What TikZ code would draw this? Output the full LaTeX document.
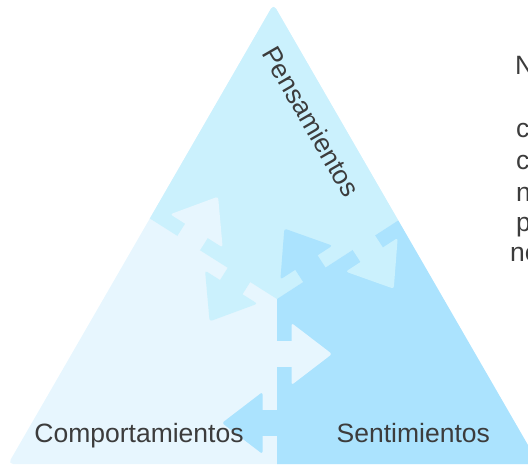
\documentclass[tikz,border=0pt]{standalone}
\usepackage{fontspec}
\setmainfont{Liberation Sans}
\definecolor{topc}{HTML}{CBF1FD}
\definecolor{leftc}{HTML}{E7F6FE}
\definecolor{rightc}{HTML}{ABE3FE}
\definecolor{txt}{HTML}{3C3C3C}
\newcommand\twarrow[3]{%
  \begin{scope}[shift={#1}, rotate=#2]
    \fill[#3] (-1,-13.3) rectangle (16,13.3);
    \fill[#3, rounded corners=2.5pt] (14.5,-31) -- (55,0) -- (14.5,31) -- cycle;
  \end{scope}}
\begin{document}
\begin{tikzpicture}[x=1pt,y=-1pt,
  lbl/.style={text=txt, font=\fontsize{26.5}{31.8}\selectfont, inner sep=0pt}]
\useasboundingbox (0,0) rectangle (528,466);
\coordinate (apex) at (273.5,4.3);
\coordinate (bl) at (8.1,464);
\coordinate (br) at (538.9,464);
\coordinate (c) at (277,299);
\begin{scope}
  \clip[rounded corners=5pt] (apex) -- (br) -- (bl) -- cycle;
  \fill[leftc] (-10,-10) rectangle (560,480);
  \fill[topc] (c) -- (22.2,137.6) -- (22.2,-10) -- (545,-10) -- (545,125.3) -- cycle;
  \fill[rightc] (c) -- (545,125.3) -- (545,480) -- (277,480) -- cycle;
  % vertical boundary
  \twarrow{(277,354)}{0}{leftc}
  \twarrow{(277,423)}{180}{rightc}
  % top-left boundary
  \twarrow{(239.0,274.9)}{237.7}{topc}
  \twarrow{(188.7,243.1)}{57.7}{leftc}
  % top-right boundary
  \twarrow{(314.3,274.7)}{123}{rightc}
  \twarrow{(363.8,242.6)}{-57}{topc}
\end{scope}
\node[lbl, anchor=base] (comp) at (139,442.7) {Comportamientos};
\node[lbl, anchor=base] (sent) at (413.3,442.7) {Sentimientos};
\node[lbl, anchor=base, rotate=-60] (pens) at (303,126) {Pensamientos};
\node[lbl, anchor=base west] (t1) at (515,74.3) {N};
\node[lbl, anchor=base west] (t2) at (516,137.7) {c};
\node[lbl, anchor=base west] (t3) at (516,169.7) {c};
\node[lbl, anchor=base west] (t4) at (516,201.7) {n};
\node[lbl, anchor=base west] (t5) at (516,231.7) {p};
\node[lbl, anchor=base west] (t6) at (510,261.7) {ne};
\end{tikzpicture}
\end{document}
